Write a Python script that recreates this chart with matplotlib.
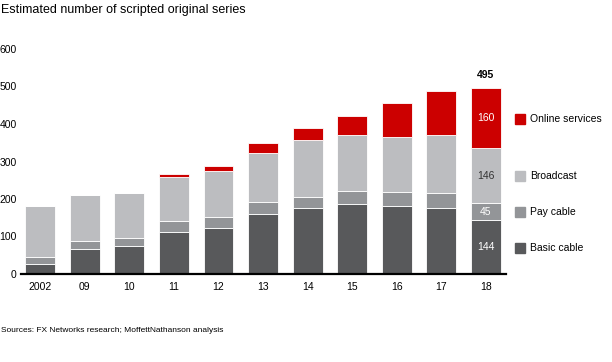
import matplotlib
matplotlib.use("Agg")
import matplotlib.pyplot as plt
import numpy as np

plt.rcParams['font.family'] = ['Liberation Sans', 'DejaVu Sans']

years = ["2002", "09", "10", "11", "12", "13", "14", "15", "16", "17", "18"]
basic_cable = [28, 66, 74, 111, 123, 160, 175, 187, 182, 175, 144]
pay_cable = [18, 21, 23, 31, 28, 33, 31, 35, 37, 42, 45]
broadcast = [136, 123, 119, 118, 123, 131, 151, 150, 146, 153, 146]
online = [0, 0, 0, 6, 14, 25, 32, 50, 90, 117, 160]
series_names = ["Basic cable", "Pay cable", "Broadcast", "Online services"]
colors = ["#58595b", "#939598", "#bcbdc0", "#cc0000"]
total_label = "495"

fig = plt.figure(figsize=(6.12, 3.62), dpi=100)
ax = fig.add_axes([21/612, 1-274/362, (506-21)/612, (274-49)/362])

x = np.arange(len(years))
w = 0.67
data = [basic_cable, pay_cable, broadcast, online]
bottom = np.zeros(len(years))
for vals, c in zip(data, colors):
    v = np.array(vals, dtype=float)
    ax.bar(x, v, w, bottom=bottom, color=c, edgecolor='white', linewidth=0.6)
    bottom += v

# labels on last bar
last = len(years) - 1
b = 0
label_colors = ["white", "white", "#333333", "white"]
for vals, lc in zip(data, label_colors):
    v = vals[last]
    ax.text(x[last], b + v/2, str(v), ha='center', va='center', fontsize=7.5, color=lc)
    b += v
ax.annotate(total_label, (x[last], bottom[last]), xytext=(0, 6), textcoords='offset points',
            ha='center', va='bottom', fontsize=7.5, fontweight='bold')

ax.set_xlim(-0.43, 10.45)
ax.set_ylim(0, 600)
ax.set_xticks(x)
ax.set_xticklabels(years, fontsize=7.5)
ax.set_yticks([0, 100, 200, 300, 400, 500, 600])
ax.tick_params(axis='both', length=0, labelsize=7.5)
ax.tick_params(axis='y', pad=3)
ax.tick_params(axis='x', pad=6)
for s in ['top', 'right', 'left']:
    ax.spines[s].set_visible(False)
ax.spines['bottom'].set_linewidth(1.6)
ax.spines['bottom'].set_color('black')

# legend
leg_y = [248, 212, 176, 119]
for name, c, yy in zip(series_names, colors, leg_y):
    fig.patches.append(plt.Rectangle((515/612, 1-(yy+5)/362), 10/612, 10/362,
                                     transform=fig.transFigure, color=c, figure=fig))
    fig.text(530/612, 1-yy/362, name, fontsize=7.5, va='center', ha='left')

fig.text(1/612, 1-10/362, "Estimated number of scripted original series", fontsize=9, va='center', ha='left')
fig.text(1/612, 1-330/362, "Sources: FX Networks research; MoffettNathanson analysis", fontsize=6, va='center', ha='left')

fig.savefig("out.png", dpi=100)
